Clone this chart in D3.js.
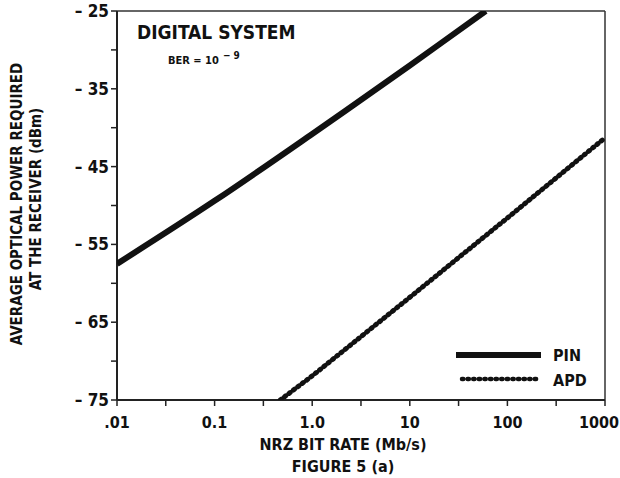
<!DOCTYPE html>
<html>
<head>
<meta charset="utf-8">
<script src="https://cdn.jsdelivr.net/npm/d3@7"></script>
<style>
  body { margin: 0; background: #fff; }
  text { font-family: "DejaVu Sans", sans-serif; font-stretch: condensed; font-weight: bold; fill: #111; }
</style>
</head>
<body>
<script>
// data
var xTicks = [0.01, 0.1, 1, 10, 100, 1000];
var xTickLabels = [".01", "0.1", "1.0", "10", "100", "1000"];
var xMinorTicks = [0.0316, 0.316, 3.16, 31.6, 316];
var yTicks = [-25, -35, -45, -55, -65, -75];
var yMinorTicks = [-30, -40, -50, -60, -70];

var pinRate = [0.01, 0.1, 1, 10, 60];
var pinPower = [-57.5, -49.4, -40.8, -32, -25];
var apdRate = [0.47, 1, 10, 100, 1000];
var apdPower = [-75, -71.9, -61.8, -51.6, -41.3];

window.onload = function(){
    var W = 620, H = 478;
    var m = {left: 117, right: 605, top: 11, bottom: 400};

    var svg = d3.select("body").append("svg")
      .attr("width", W)
      .attr("height", H);

    var x = d3.scaleLog().domain([0.01, 1000]).range([m.left, m.right]);
    var y = d3.scaleLinear().domain([-75, -25]).range([m.bottom, m.top]);

    // clip for the curves
    svg.append("clipPath").attr("id", "plot")
      .append("rect")
      .attr("x", m.left).attr("y", m.top)
      .attr("width", m.right - m.left).attr("height", m.bottom - m.top);

    // frame: top and right thinner
    svg.append("line").attr("x1", m.left).attr("x2", m.right).attr("y1", m.top).attr("y2", m.top)
      .attr("stroke", "#333").attr("stroke-width", 1.5);
    svg.append("line").attr("x1", m.right).attr("x2", m.right).attr("y1", m.top).attr("y2", m.bottom)
      .attr("stroke", "#333").attr("stroke-width", 1.5);

    // bottom axis
    var xAxis = svg.append("g").attr("transform", "translate(0," + m.bottom + ")");
    xAxis.append("line").attr("x1", m.left).attr("x2", m.right)
      .attr("stroke", "#222").attr("stroke-width", 2);
    xAxis.selectAll(".tk").data(xTicks.concat(xMinorTicks)).enter().append("line")
      .attr("x1", function(d){ return x(d); }).attr("x2", function(d){ return x(d); })
      .attr("y1", 0).attr("y2", 6)
      .attr("stroke", "#222").attr("stroke-width", 1.5);
    xAxis.selectAll(".lb").data(xTicks).enter().append("text")
      .attr("x", function(d, i){ return i == xTicks.length - 1 ? 619 : x(d); })
      .attr("y", 28)
      .attr("text-anchor", function(d, i){ return i == xTicks.length - 1 ? "end" : "middle"; })
      .attr("font-size", 16)
      .text(function(d, i){ return xTickLabels[i]; });

    // left axis
    var yAxis = svg.append("g").attr("transform", "translate(" + m.left + ",0)");
    yAxis.append("line").attr("y1", m.top).attr("y2", m.bottom)
      .attr("stroke", "#222").attr("stroke-width", 2);
    yAxis.selectAll(".tk").data(yTicks.concat(yMinorTicks)).enter().append("line")
      .attr("y1", function(d){ return y(d); }).attr("y2", function(d){ return y(d); })
      .attr("x1", -6).attr("x2", 0)
      .attr("stroke", "#222").attr("stroke-width", 1.5);
    yAxis.selectAll(".lb").data(yTicks).enter().append("text")
      .attr("x", -8)
      .attr("y", function(d){ return y(d) + 6; })
      .attr("text-anchor", "end")
      .attr("font-size", 17)
      .text(function(d){ return "\u2013 " + Math.abs(d); });

    // curves
    var pinLine = d3.line()
      .x(function(d){ return x(d[0]); })
      .y(function(d){ return y(d[1]); })
      .curve(d3.curveCatmullRom);
    var apdLine = d3.line()
      .x(function(d){ return x(d[0]); })
      .y(function(d){ return y(d[1]); });

    var pin = d3.zip(pinRate, pinPower);
    var apd = d3.zip(apdRate, apdPower);

    var curves = svg.append("g").attr("clip-path", "url(#plot)");
    curves.append("path").datum(pin)
      .attr("d", pinLine)
      .attr("fill", "none").attr("stroke", "#111").attr("stroke-width", 6);
    curves.append("path").datum(apd)
      .attr("d", apdLine)
      .attr("fill", "none").attr("stroke", "#111").attr("stroke-width", 5)
      .attr("stroke-linecap", "round").attr("stroke-dasharray", "1.4,4.1");

    // title
    svg.append("text").attr("x", 137).attr("y", 39).attr("font-size", 19)
      .text("DIGITAL SYSTEM");
    var ber = svg.append("text").attr("x", 168).attr("y", 64).attr("font-size", 11);
    ber.append("tspan").text("BER = 10");
    ber.append("tspan").attr("dy", -5).attr("dx", 4).attr("font-size", 10).text("\u2212 9");

    // legend
    var lg = svg.append("g");
    lg.append("line").attr("x1", 456).attr("x2", 541).attr("y1", 355).attr("y2", 355)
      .attr("stroke", "#111").attr("stroke-width", 6);
    lg.append("line").attr("x1", 462).attr("x2", 539).attr("y1", 379).attr("y2", 379)
      .attr("stroke", "#111").attr("stroke-width", 4.5)
      .attr("stroke-linecap", "round").attr("stroke-dasharray", "1.3,4.3");
    lg.append("text").attr("x", 553).attr("y", 361).attr("font-size", 16).text("PIN");
    lg.append("text").attr("x", 553).attr("y", 386).attr("font-size", 16).text("APD");

    // axis titles
    svg.append("text").attr("x", 343).attr("y", 450).attr("text-anchor", "middle")
      .attr("font-size", 16).text("NRZ BIT RATE (Mb/s)");
    svg.append("text").attr("x", 343).attr("y", 472).attr("text-anchor", "middle")
      .attr("font-size", 16).text("FIGURE 5 (a)");

    svg.append("text").attr("transform", "translate(22,204) rotate(-90)")
      .attr("text-anchor", "middle").attr("font-size", 15)
      .text("AVERAGE OPTICAL POWER REQUIRED");
    svg.append("text").attr("transform", "translate(41,199) rotate(-90)")
      .attr("text-anchor", "middle").attr("font-size", 15)
      .text("AT THE RECEIVER (dBm)");
};
</script>
</body>
</html>
